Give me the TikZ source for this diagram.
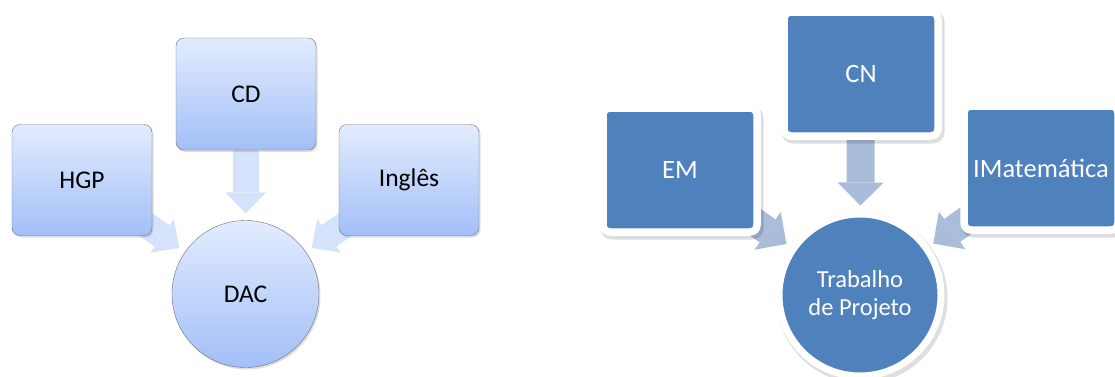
\documentclass[tikz,border=0pt]{standalone}
\usepackage{fontspec}
\setmainfont{Carlito}
\usetikzlibrary{arrows.meta, positioning, shadows}
\definecolor{lbtop}{HTML}{E2ECFE}
\definecolor{lbbot}{HTML}{A3BFF8}
\definecolor{lbline}{HTML}{6E6E72}
\definecolor{lbarrow}{HTML}{D4E2FB}
\definecolor{dkblue}{HTML}{4F81BD}
\definecolor{dkarrow}{HTML}{A9BCDA}

\begin{document}
\begin{tikzpicture}[
  x=1pt, y=-1pt,
  every node/.style={font=\fontsize{25.5}{30}\selectfont},
  lightbox/.style={rectangle, rounded corners=8pt, draw=lbline, thin, top color=lbtop, bottom color=lbbot, minimum width=140pt, minimum height=111pt, drop shadow={opacity=0.25, shadow xshift=1.5pt, shadow yshift=-2pt}},
  lightcirc/.style={circle, draw=lbline, thin, top color=lbtop, bottom color=lbbot, minimum size=147pt, inner sep=0pt, drop shadow={opacity=0.25, shadow xshift=1.5pt, shadow yshift=-2pt}},
  darkbox/.style={rectangle, rounded corners=7pt, draw=white, line width=7.5pt, fill=dkblue, minimum width=154pt, minimum height=124pt, text=white, font=\fontsize{26.5}{31}\selectfont, drop shadow={opacity=0.13, shadow xshift=2pt, shadow yshift=-3pt, draw=black, line width=9pt}},
  darkcirc/.style={circle, draw=white, line width=7pt, fill=dkblue, minimum size=162pt, inner sep=0pt, text=white, align=center, font=\fontsize{24.5}{28}\selectfont, drop shadow={opacity=0.13, shadow xshift=2pt, shadow yshift=-3pt, draw=black, line width=9pt}},
  lightarr/.style={lbarrow, line width=26pt, -{Triangle[length=21pt, width=41pt, line width=0pt]}, shorten >=7pt},
  darkarr/.style={dkarrow, line width=28pt, -{Triangle[length=23pt, width=46pt, line width=0pt]}, shorten >=5pt},
]
\useasboundingbox (0,0) rectangle (1115,376);

% left diagram
\node[lightcirc] (dac) at (245.5, 294) {DAC};
\coordinate (hgpc) at (82, 180);
\coordinate (cdc) at (246, 94);
\coordinate (ingc) at (409, 180);
\draw[lightarr] (hgpc) -- (dac);
\draw[lightarr] (cdc) -- (dac);
\draw[lightarr] (ingc) -- (dac);
\node[lightbox] (hgp) at (hgpc) {HGP};
\node[lightbox, minimum height=112pt] (cd) at (cdc) {CD};
\node[lightbox] (ing) at (ingc) {Inglês};

% right diagram
\node[darkcirc] (tp) at (860, 295) {Trabalho\\de Projeto};
\coordinate (emc) at (680, 170);
\coordinate (cnc) at (861, 74);
\coordinate (imc) at (1041, 168);
\draw[darkarr] (emc) -- (tp);
\draw[darkarr] (cnc) -- (tp);
\draw[darkarr] (imc) -- (tp);
\node[darkbox] (em) at (emc) {EM};
\node[darkbox] (cn) at (cnc) {CN};
\node[darkbox] (im) at (imc) {IMatemática};
\end{tikzpicture}
\end{document}
